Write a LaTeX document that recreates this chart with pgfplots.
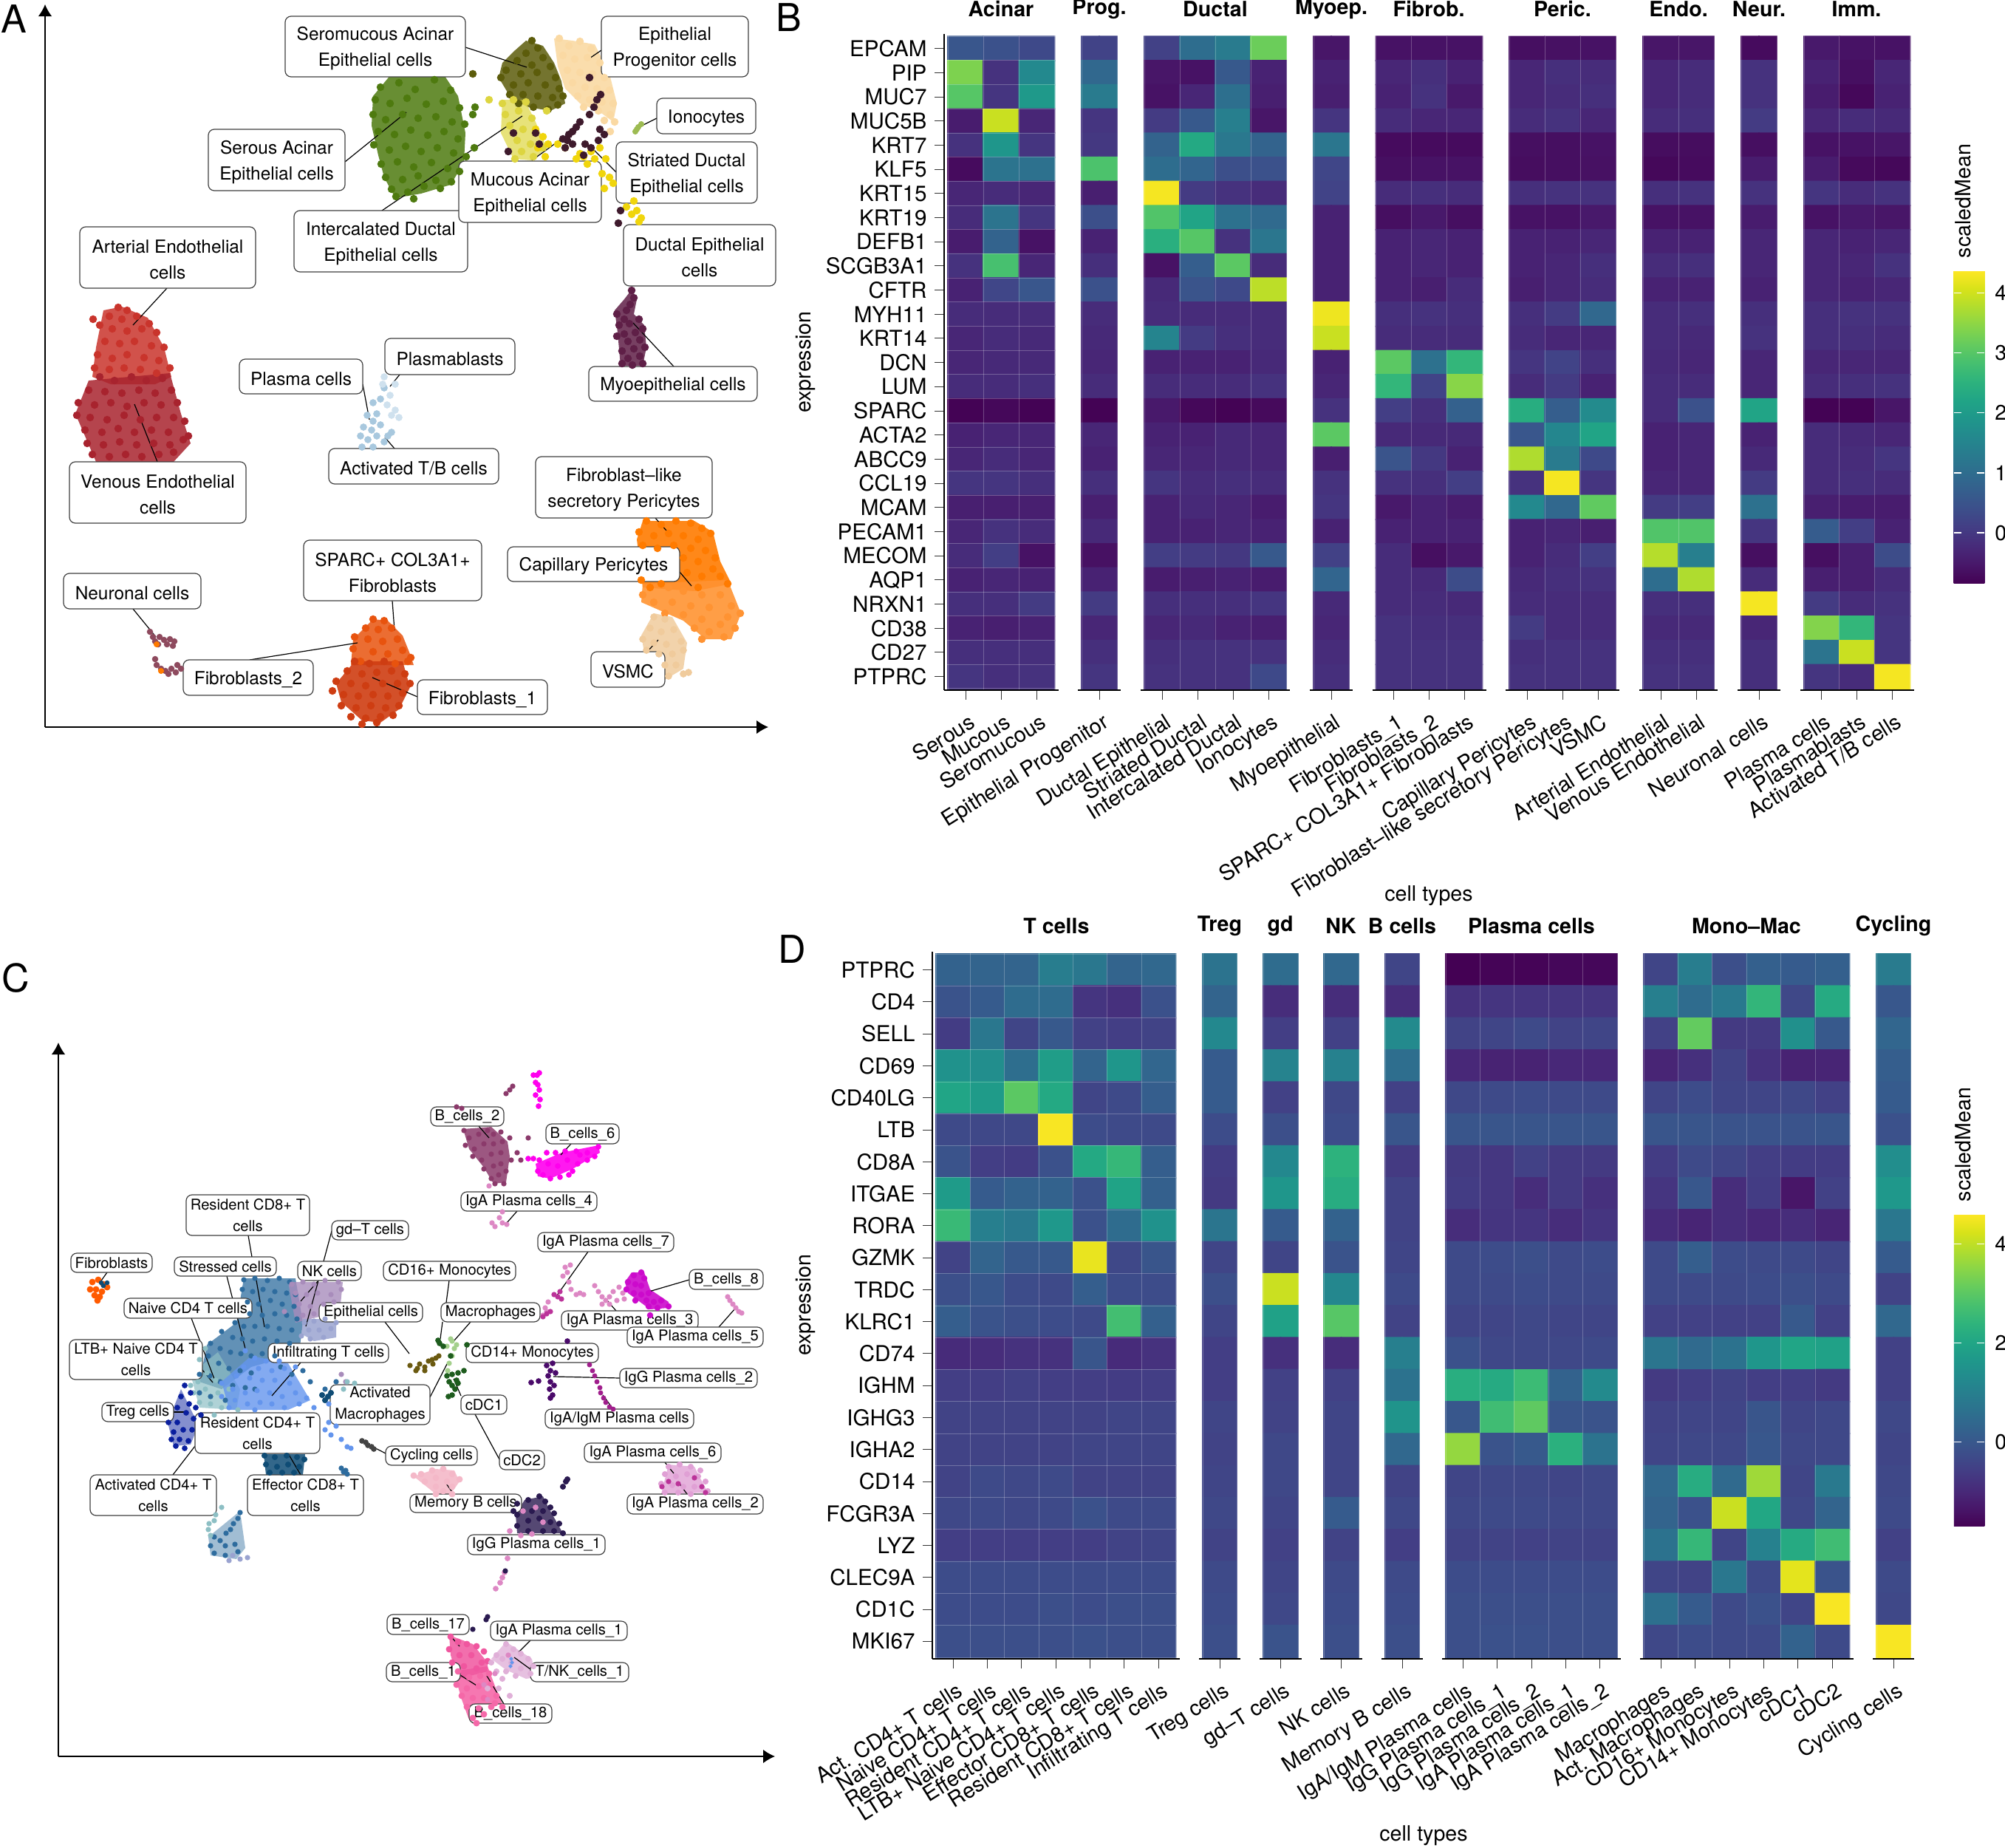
\documentclass[border=0pt]{standalone}
\usepackage{fontspec}
\setmainfont{TeX Gyre Heros}
\usepackage{pgfplots}
\pgfplotsset{compat=1.18,/pgf/number format/assume math mode=true}
\usetikzlibrary{arrows.meta}
\def\P(#1,#2){({(#1)*0.25pt},{(2500-(#2))*0.25pt})}
\newcommand\tf{\fontsize{7.15}{8}\selectfont}
\newcommand\ty{\fontsize{7.4}{8}\selectfont}
\newcommand\tx{\fontsize{7.25}{8}\selectfont}
\newcommand\ttl{\fontsize{7.15}{8}\selectfont\bfseries}
\newcommand\la{\fontsize{6.1}{8.75}\selectfont}
\newcommand\lc{\fontsize{5.05}{7.25}\selectfont}
\newcommand\pts[3]{\addplot[only marks,mark=*,mark size=#2pt,color=#1,mark options={draw=none,fill=#1}] coordinates {#3};}
\newcommand\blob[3]{\addplot[fill=#1,draw=none,fill opacity=#2] coordinates {#3} --cycle;}
\newcommand\seg[4]{\draw[black,line width=.3pt] (axis cs:#1,#2)--(axis cs:#3,#4);}
\newcommand\lab[6]{\draw[rounded corners=2pt,fill=white,draw=black!75,line width=.3pt] (axis cs:#2,#3) rectangle (axis cs:#4,#5);
 \node[align=center,inner sep=0pt,font=#1,yshift=\labshift] at (axis cs:{(#2+#4)/2},{(#3+#5)/2}) {#6};}
\tikzset{arr/.style={-{Latex[length=4pt,width=4.6pt]},line width=.3pt,black}}
\definecolor{ser}{HTML}{4E7A0F}\definecolor{smu}{HTML}{5C5C0B}\definecolor{epi}{HTML}{FAD9A3}
\definecolor{int}{HTML}{DDD540}\definecolor{str}{HTML}{F0D50C}\definecolor{muc}{HTML}{3E1A2C}
\definecolor{ion}{HTML}{9DBB52}\definecolor{myo}{HTML}{5F1F47}\definecolor{art}{HTML}{C9342C}
\definecolor{ven}{HTML}{A8232E}\definecolor{pla}{HTML}{A8C8DE}\definecolor{pbl}{HTML}{CFE1EE}
\definecolor{spa}{HTML}{E8530E}\definecolor{fia}{HTML}{CE3D12}\definecolor{neu}{HTML}{8E4A5E}
\definecolor{fle}{HTML}{FF7B00}\definecolor{cap}{HTML}{FF9332}\definecolor{vsm}{HTML}{F0CB9C}
\definecolor{rc8}{HTML}{2E6C9E}\definecolor{nkc}{HTML}{A88CBB}\definecolor{inf}{HTML}{9AA3D0}
\definecolor{blu}{HTML}{6495ED}\definecolor{ltb}{HTML}{8DBFC4}\definecolor{trg}{HTML}{0A1F9E}
\definecolor{eff}{HTML}{0F4C75}\definecolor{fib}{HTML}{FF5A00}\definecolor{mdg}{HTML}{1E5C1E}
\definecolor{mlg}{HTML}{A4D08C}\definecolor{eol}{HTML}{6B5A10}\definecolor{cyc}{HTML}{444444}
\definecolor{mem}{HTML}{F4B8C8}\definecolor{btw}{HTML}{8B3A6B}\definecolor{bsi}{HTML}{FF00EE}
\definecolor{ipk}{HTML}{DD88C4}\definecolor{ima}{HTML}{BB3399}\definecolor{bei}{HTML}{CC0ACC}
\definecolor{ig2}{HTML}{4A0A6A}\definecolor{iam}{HTML}{A01E8C}\definecolor{isx}{HTML}{E0A0D5}
\definecolor{ig1}{HTML}{2A1A50}\definecolor{b17}{HTML}{F0569F}\definecolor{bon}{HTML}{F568A8}
\definecolor{ial}{HTML}{E0B0D8}
% heat-map facet: xl, xr, ncols, tick labels, extra options, data (a one-column facet lists each value twice)
\newcommand\facet[6]{%
 \pgfmathsetmacro\FX{(#1-5)*0.25}\pgfmathsetmacro\FY{(2500-\Yb-2)*0.25}%
 \pgfmathsetmacro\FW{(#2-#1+10)*0.25}\pgfmathsetmacro\FH{(\Yb-\Yt+5)*0.25}%
 \pgfmathsetmacro\CW{(#2-#1)/#3}\pgfmathsetmacro\RP{(\Yb-\Yt)/\Nr}%
 \pgfmathsetmacro\XA{-0.5-5/\CW}\pgfmathsetmacro\XB{#3-0.5+5/\CW}%
 \pgfmathsetmacro\YA{-(\Nr-1)-0.5-2/\RP}\pgfmathsetmacro\YB{0.5+3/\RP}%
 \pgfmathtruncatemacro\MC{max(#3,2)}%
 \begin{axis}[at={(\FX pt,\FY pt)},anchor=south west,scale only axis,width=\FW pt,height=\FH pt,
  xmin=\XA,xmax=\XB,ymin=\YA,ymax=\YB,enlargelimits=false,colormap/viridis,axis on top,
  point meta min=\Mmin,point meta max=\Mmax,
  axis x line=bottom,axis y line=left,x axis line style={-,line width=.5pt},y axis line style={-,draw=none},
  xtick={0,1,2,3,4,5,6},xticklabels={#4},ytick=\empty,tick align=outside,major tick length=3.25pt,
  major tick style={black!80,line width=.25pt},
  minor xtick={-.5,.5,1.5,2.5,3.5,4.5,5.5,6.5},minor ytick={0.5,-0.5,...,-26.5},
  xminorgrids,yminorgrids,minor tick length=0pt,minor grid style={white,opacity=.25,line width=.25pt},
  xticklabel style={font=\tx,rotate=32,anchor=north east,inner sep=1pt,xshift=-.5pt,yshift=-3pt},
  yticklabel style={font=\ty,xshift=.9pt},#5]
 \addplot[matrix plot*,mesh/cols=\MC,point meta=\thisrow{z}] table[row sep=\\,x expr={ifthenelse(#3==1,mod(\coordindex,2)*0.5-0.25,mod(\coordindex,#3))},y expr={round((mod(\coordindex,\MC)-\coordindex)/\MC)}]{z\\ #6};
 \end{axis}}
\begin{document}
\begin{tikzpicture}
\path[use as bounding box] (0,0) rectangle (678.5pt,625pt);
% ---------- panel A
\def\labshift{-.7pt}
\begin{axis}[at={(15.25pt,379pt)},anchor=south west,scale only axis,width=244.75pt,height=244.5pt,xmin=61,xmax=1040,ymin=6,ymax=984,y dir=reverse,clip=false,hide axis]
\draw[arr] (axis cs:61,984)--(axis cs:61,6);\draw[arr] (axis cs:61,984)--(axis cs:1040,984);
\blob{ser}{.85}{(530,100)(600,100)(620,130)(630,180)(628,220)(610,250)(570,262)(535,268)(520,240)(512,210)(503,170)(505,130)}
\pts{ser}{1.1}{(515,118)(540,112)(562,121)(588,108)(610,122)(508,135)(528,140)(551,133)(577,141)(600,137)(622,146)(505,155)(522,162)(545,155)(566,160)(590,158)(612,165)(629,168)(512,178)(534,182)(556,176)(579,183)(601,178)(620,188)(506,196)(527,203)(549,198)(570,205)(592,200)(614,207)(631,212)(516,222)(538,219)(560,226)(584,220)(606,228)(622,232)(522,240)(545,243)(566,238)(590,244)(611,246)(530,256)(552,260)(574,252)(596,255)(536,266)(560,269)(640,155)(643,145)(642,200)}
\blob{epi}{.9}{(750,52)(775,55)(805,60)(825,100)(835,140)(830,165)(810,150)(785,140)(765,120)(755,90)}
\pts{epi}{1.1}{(757,52)(770,62)(785,56)(800,66)(762,75)(778,80)(795,78)(812,85)(768,95)(785,98)(802,100)(818,105)(775,112)(792,118)(808,120)(825,122)(782,130)(798,135)(815,138)(830,140)(790,145)(810,150)(826,155)(832,165)(818,163)(826,178)}
\blob{smu}{.85}{(712,55)(735,62)(750,85)(760,110)(765,140)(745,150)(715,145)(690,130)(675,105)(680,85)(695,70)}
\pts{smu}{1.1}{(720,55)(728,65)(712,72)(735,78)(700,82)(720,88)(745,90)(685,95)(705,100)(727,98)(752,105)(678,105)(695,115)(715,112)(738,115)(757,120)(690,128)(708,128)(728,130)(748,132)(762,130)(702,140)(722,145)(742,148)(755,142)(640,100)}
\blob{int}{.7}{(680,135)(710,135)(725,165)(740,200)(720,217)(695,215)(678,180)}
\pts{int}{1.1}{(680,140)(695,135)(712,138)(684,155)(702,150)(720,160)(690,170)(708,175)(725,180)(700,190)(718,195)(735,200)(706,205)(722,212)(697,215)(740,150)(662,135)}
\pts{str}{1.1}{(725,175)(735,185)(728,200)(742,195)(738,212)(755,195)(765,200)(780,215)(790,212)(800,205)(805,215)(795,222)(812,200)(820,215)(815,235)(825,240)(818,255)(830,248)(848,280)(855,290)(862,285)(868,295)(858,272)(865,300)(785,208)}
\pts{muc}{1.1}{(798,105)(813,128)(808,135)(804,145)(798,155)(785,165)(780,172)(775,178)(770,182)(762,188)(768,190)(775,195)(765,200)(730,195)(725,180)(695,180)(688,205)(792,195)(800,200)(810,190)(790,210)(812,175)(818,182)(840,285)(837,302)}
\pts{ion}{.8}{(860,178)(864,172)(868,168)(862,175)}
\blob{myo}{.85}{(855,392)(862,405)(858,425)(872,440)(875,470)(870,495)(840,495)(836,450)(832,420)(845,405)}
\pts{myo}{1.1}{(855,393)(858,403)(853,412)(848,420)(845,432)(835,425)(838,440)(852,438)(865,432)(870,445)(860,450)(845,452)(835,455)(850,462)(866,460)(873,470)(858,472)(842,475)(850,485)(866,482)(856,494)(842,492)(870,492)}
\blob{art}{.85}{(140,420)(165,415)(200,430)(222,470)(232,510)(210,520)(150,520)(125,510)(130,470)}
\pts{art}{1.1}{(160,416)(172,420)(148,428)(165,432)(185,428)(202,438)(135,440)(152,445)(172,448)(192,445)(212,450)(126,432)(142,462)(162,465)(182,462)(205,468)(222,470)(132,480)(152,485)(172,480)(195,484)(215,488)(128,498)(148,500)(168,498)(190,500)(212,505)(230,498)}
\blob{ven}{.85}{(120,515)(230,505)(245,560)(258,600)(235,625)(130,625)(115,590)(102,560)}
\pts{ven}{1.1}{(135,510)(155,515)(178,510)(198,515)(220,512)(120,528)(142,530)(165,532)(188,528)(210,532)(232,528)(106,545)(128,548)(150,545)(172,550)(195,545)(218,548)(240,545)(104,562)(122,565)(145,568)(168,562)(190,568)(212,565)(235,565)(250,570)(115,582)(138,585)(160,580)(182,585)(205,582)(228,585)(255,590)(118,600)(140,602)(162,598)(185,602)(208,600)(230,602)(248,595)(125,615)(148,618)(170,615)(192,618)(215,615)(235,612)}
\pts{pla}{1}{(520,525)(515,540)(505,545)(510,560)(497,562)(505,570)(492,578)(503,582)(515,575)(488,590)(498,595)(510,590)(520,598)(490,605)(505,605)(525,590)(530,585)}
\pts{pbl}{1}{(528,535)(535,520)(530,562)(535,555)(540,565)(520,510)(524,548)(518,520)}
\blob{spa}{.85}{(505,838)(525,840)(545,860)(555,885)(560,900)(475,900)(478,865)}
\pts{spa}{1.1}{(505,838)(520,840)(495,850)(512,852)(530,850)(480,862)(498,865)(518,868)(538,865)(478,878)(505,882)(525,885)(545,880)(552,895)(488,895)(535,898)(556,890)}
\blob{fia}{.9}{(480,895)(545,895)(555,930)(540,960)(515,978)(490,975)(462,950)(455,925)}
\pts{fia}{1.1}{(480,895)(500,898)(520,895)(470,908)(490,912)(510,910)(530,908)(548,912)(455,922)(475,925)(495,928)(518,925)(538,925)(555,925)(450,935)(465,940)(485,942)(505,940)(525,942)(545,938)(462,955)(482,958)(502,955)(522,958)(540,955)(475,970)(495,972)(515,970)(532,968)(490,980)(510,978)}
\pts{neu}{.85}{(203,855)(207,862)(210,868)(216,862)(222,866)(230,865)(236,868)(234,874)(226,872)(214,872)(210,892)(212,900)(218,905)(224,908)(232,905)(238,910)(245,905)(228,912)(240,900)}
\pts{fle}{.8}{(212,872)(218,908)}
\blob{fle}{.9}{(870,705)(940,705)(965,720)(975,760)(990,790)(940,800)(870,795)(862,730)}
\pts{fle}{1.1}{(875,705)(895,710)(915,705)(935,708)(950,715)(865,720)(885,725)(905,722)(925,725)(945,730)(962,722)(870,738)(890,742)(912,738)(935,742)(955,745)(968,755)(925,755)(945,760)(965,770)(975,780)(930,775)(950,780)(985,790)(868,785)(880,795)(895,790)(945,795)}
\blob{cap}{.9}{(870,790)(985,785)(1003,830)(990,865)(955,865)(925,840)(868,815)}
\pts{cap}{1.1}{(905,795)(925,800)(950,805)(975,805)(990,820)(870,805)(885,815)(910,815)(935,820)(960,822)(985,835)(1002,830)(900,830)(925,832)(950,838)(975,845)(995,850)(940,850)(960,855)(980,862)(950,865)}
\blob{vsm}{.85}{(885,830)(910,835)(930,870)(925,905)(900,920)(875,900)(868,860)}
\pts{vsm}{1}{(885,835)(900,838)(880,850)(895,855)(912,852)(870,865)(885,870)(902,872)(922,868)(875,880)(892,885)(910,885)(925,880)(900,900)(915,900)(905,915)(925,912)(932,910)}
\seg{630}{64}{713}{91}\seg{814}{68}{798}{79}\seg{889}{160}{867}{171}\seg{467}{219}{550}{152}\seg{834}{233}{804}{203}\seg{720}{217}{767}{183}\seg{517}{285}{707}{157}\seg{226}{390}{180}{440}\seg{912}{496}{857}{437}\seg{541}{507}{528}{523}\seg{491}{520}{500}{568}\seg{534}{607}{521}{592}\seg{213}{625}{182}{547}\seg{887}{701}{902}{718}\seg{920}{774}{936}{793}\seg{531}{813}{534}{853}\seg{180}{824}{211}{862}\seg{338}{893}{484}{870}\seg{565}{943}{504}{917}\seg{876}{882}{891}{866}
\lab{\la}{386}{22}{630}{104}{Seromucous Acinar\\Epithelial cells}
\lab{\la}{814}{22}{1013}{104}{Epithelial\\Progenitor cells}
\lab{\la}{889}{133}{1023}{181}{Ionocytes}
\lab{\la}{282}{175}{467}{258}{Serous Acinar\\Epithelial cells}
\lab{\la}{398}{285}{633}{368}{Intercalated Ductal\\Epithelial cells}
\lab{\la}{621}{218}{814}{301}{Mucous Acinar\\Epithelial cells}
\lab{\la}{834}{192}{1025}{275}{Striated Ductal\\Epithelial cells}
\lab{\la}{108}{307}{346}{390}{Arterial Endothelial\\cells}
\lab{\la}{844}{304}{1050}{387}{Ductal Epithelial\\cells}
\lab{\la}{521}{458}{697}{507}{Plasmablasts}
\lab{\la}{324}{486}{491}{533}{Plasma cells}
\lab{\la}{797}{496}{1025}{543}{Myoepithelial cells}
\lab{\la}{445}{607}{675}{655}{Activated T/B cells}
\lab{\la}{94}{625}{333}{708}{Venous Endothelial\\cells}
\lab{\la}{725}{618}{964}{701}{Fibroblast–like\\secretory Pericytes}
\lab{\la}{687}{740}{920}{787}{Capillary Pericytes}
\lab{\la}{411}{731}{652}{813}{SPARC+ COL3A1+\\Fibroblasts}
\lab{\la}{86}{776}{272}{824}{Neuronal cells}
\lab{\la}{248}{893}{424}{941}{Fibroblasts\_2}
\lab{\la}{565}{920}{741}{967}{Fibroblasts\_1}
\lab{\la}{800}{882}{900}{930}{VSMC}
\end{axis}
% ---------- panel C
\def\labshift{0pt}
\begin{axis}[at={(19.75pt,30.75pt)},anchor=south west,scale only axis,width=242.5pt,height=241.5pt,xmin=79,xmax=1049,ymin=1411,ymax=2377,y dir=reverse,clip=false,hide axis]
\draw[arr] (axis cs:79,2377)--(axis cs:79,1411);\draw[arr] (axis cs:79,2377)--(axis cs:1049,2377);
\blob{rc8}{.75}{(330,1730)(400,1730)(410,1790)(405,1830)(375,1840)(340,1850)(300,1880)(270,1870)(280,1820)(320,1790)}
\blob{nkc}{.8}{(390,1735)(464,1735)(460,1775)(420,1785)(400,1790)}
\blob{inf}{.85}{(410,1785)(455,1785)(455,1810)(425,1815)(408,1805)}
\blob{ltb}{.7}{(258,1860)(295,1830)(325,1880)(320,1908)(270,1905)}
\blob{blu}{.8}{(300,1870)(340,1835)(390,1845)(420,1895)(390,1908)(310,1908)}
\blob{trg}{.5}{(245,1880)(262,1915)(272,1920)(258,1955)(235,1957)(227,1925)}
\blob{eff}{.85}{(357,1968)(413,1968)(410,1996)(360,1996)}
\blob{rc8}{.45}{(325,2045)(332,2095)(320,2110)(285,2105)(282,2080)}
\pts{rc8}{.7}{(330,1732)(345,1730)(362,1733)(378,1730)(392,1735)(328,1745)(342,1748)(356,1745)(372,1748)(388,1750)(400,1752)(335,1762)(350,1765)(366,1760)(382,1765)(398,1768)(338,1778)(355,1780)(372,1778)(388,1780)(402,1785)(318,1790)(330,1795)(345,1795)(362,1795)(378,1798)(395,1800)(300,1802)(315,1810)(328,1812)(342,1815)(358,1812)(375,1815)(392,1818)(285,1818)(298,1825)(312,1830)(326,1832)(340,1835)(355,1832)(372,1835)(282,1835)(296,1845)(310,1852)(325,1855)(340,1858)(270,1860)(284,1862)(298,1870)(315,1875)(332,1878)(270,1885)(285,1890)(305,1895)(345,1880)(380,1850)(395,1860)(410,1855)(420,1870)(440,1880)(455,1870)}
\pts{nkc}{.7}{(395,1738)(410,1735)(425,1738)(440,1733)(458,1735)(462,1745)(400,1750)(415,1752)(430,1750)(448,1752)(405,1765)(420,1768)(438,1765)(452,1762)(410,1780)(425,1778)(385,1775)(462,1860)(468,1870)}
\pts{inf}{.7}{(412,1790)(425,1788)(440,1785)(455,1790)(418,1800)(432,1800)(448,1798)(420,1812)(438,1810)(408,1808)}
\pts{ltb}{.7}{(278,1825)(270,1840)(258,1875)(268,1870)(280,1858)(292,1868)(262,1885)(278,1880)(295,1885)(310,1880)(270,1898)(285,1900)(300,1905)(318,1895)(322,1908)(290,1915)(470,1870)(480,1872)(465,1880)}
\pts{trg}{.75}{(250,1875)(258,1885)(245,1890)(256,1900)(240,1905)(252,1912)(262,1920)(272,1915)(228,1925)(240,1925)(235,1938)(248,1935)(260,1935)(232,1948)(243,1948)(255,1950)(238,1957)(250,1960)(265,1905)}
\pts{blu}{.7}{(332,1828)(345,1838)(360,1842)(378,1842)(330,1850)(350,1852)(368,1855)(385,1852)(400,1850)(320,1862)(338,1865)(355,1868)(372,1868)(392,1872)(300,1872)(315,1880)(332,1885)(348,1882)(365,1885)(382,1890)(400,1885)(415,1892)(300,1890)(318,1895)(335,1900)(352,1898)(368,1900)(385,1905)(405,1900)(425,1905)(445,1900)(310,1905)(345,1908)(440,1935)(448,1942)(455,1930)(462,1948)(470,1958)(445,1925)(475,1960)}
\pts{eff}{.8}{(358,1970)(372,1972)(388,1970)(402,1972)(412,1975)(360,1982)(375,1985)(390,1982)(405,1985)(365,1993)(382,1993)(398,1993)(436,1888)(444,1890)(448,1885)(440,1895)}
\pts{rc8}{.7}{(462,1987)(465,1992)(470,1995)(468,1990)(325,2047)(322,2055)(316,2062)(312,2070)(306,2075)(290,2080)(298,2085)(285,2092)(305,2092)(318,2090)(290,2102)(305,2105)(322,2100)}
\pts{ltb}{.7}{(292,2050)(290,2058)(283,2062)(282,2070)(285,2078)(300,2040)}
\pts{inf}{.7}{(315,2105)(325,2110)(335,2108)(310,2112)}
\pts{fib}{.9}{(125,1735)(133,1732)(140,1738)(122,1745)(130,1745)(138,1748)(145,1742)(128,1753)(135,1755)(132,1760)}
\pts{eff}{.6}{(140,1740)(137,1736)(145,1736)}
\pts{eol}{.7}{(555,1848)(565,1852)(568,1846)(575,1850)(580,1842)(585,1840)(590,1838)(586,1846)(594,1835)(563,1855)(575,1855)}
\pts{mlg}{.7}{(612,1815)(618,1820)(615,1825)(610,1812)(605,1822)(612,1835)(608,1845)(606,1855)}
\pts{mdg}{.75}{(595,1818)(593,1814)(600,1822)(610,1835)(605,1862)(612,1860)(620,1858)(628,1855)(632,1820)(608,1870)(612,1875)(616,1880)(612,1888)(607,1890)(620,1872)(618,1868)}
\pts{cyc}{.75}{(490,1950)(495,1952)(498,1956)(503,1958)(506,1961)}
\blob{mem}{.9}{(560,1998)(590,1988)(615,1990)(622,2005)(610,2022)(590,2022)}
\pts{mem}{.9}{(560,1997)(570,1995)(585,1990)(600,1988)(612,1995)(622,2002)(575,2005)(590,2000)(605,2005)(612,2012)(590,2012)(600,2018)(612,2022)(590,2022)}
\blob{btw}{.85}{(627,1528)(665,1525)(687,1545)(690,1565)(685,1600)(668,1602)(655,1580)(635,1555)}
\pts{btw}{.7}{(628,1530)(635,1540)(648,1535)(660,1530)(668,1535)(678,1532)(630,1550)(642,1555)(655,1548)(668,1548)(680,1545)(690,1540)(640,1565)(652,1570)(665,1562)(678,1560)(655,1582)(668,1578)(678,1575)(665,1595)(675,1590)(685,1585)(670,1602)(682,1602)(692,1570)(700,1560)(705,1570)(715,1540)(690,1475)(694,1470)(685,1480)(618,1498)(625,1500)}
\blob{bsi}{.9}{(725,1575)(760,1560)(810,1550)(812,1560)(775,1582)(745,1595)(728,1592)}
\pts{bsi}{.75}{(722,1455)(730,1452)(725,1465)(730,1475)(725,1482)(731,1488)(729,1497)(727,1455)(728,1468)(728,1585)(735,1590)(745,1595)(758,1593)(770,1590)(730,1570)(742,1575)(755,1578)(768,1570)(782,1575)(740,1560)(752,1560)(765,1558)(780,1558)(795,1560)(810,1552)(805,1565)(795,1570)(785,1563)(775,1585)(715,1568)(722,1568)}
\pts{ipk}{.7}{(680,1640)(676,1648)(680,1655)(666,1655)(670,1660)(686,1657)(662,1605)}
\pts{ipk}{.7}{(765,1715)(768,1722)(762,1727)(772,1712)(770,1735)(773,1745)(780,1752)(785,1750)(790,1752)(742,1762)(738,1770)(735,1780)(740,1775)}
\pts{ima}{.7}{(750,1752)(755,1755)(758,1748)(760,1758)(735,1782)(740,1778)(745,1775)}
\pts{ipk}{.7}{(805,1740)(810,1748)(815,1755)(820,1760)(825,1755)(830,1748)(838,1742)(843,1750)(835,1760)(845,1758)(825,1765)(815,1765)}
\blob{bei}{.9}{(855,1722)(872,1722)(880,1745)(905,1762)(905,1770)(880,1772)(850,1750)(846,1735)}
\pts{bei}{.85}{(858,1726)(868,1722)(872,1730)(850,1735)(860,1738)(868,1740)(848,1745)(858,1750)(868,1752)(878,1750)(860,1760)(875,1760)(885,1762)(895,1760)(905,1768)(890,1770)(878,1768)(880,1780)}
\pts{ipk}{.7}{(985,1755)(988,1760)(992,1765)(996,1770)(1000,1775)(1004,1777)}
\pts{ig2}{.75}{(740,1848)(748,1845)(745,1855)(752,1858)(742,1862)(745,1870)(750,1875)(744,1880)(748,1888)(745,1892)(719,1871)(729,1869)(768,1815)}
\pts{iam}{.65}{(798,1847)(802,1855)(805,1862)(808,1870)(812,1878)(813,1885)(817,1892)(820,1898)(825,1904)(830,1907)}
\blob{isx}{.8}{(905,1982)(940,1985)(958,2020)(895,2022)}
\pts{isx}{.8}{(905,1985)(920,1982)(935,1985)(948,1990)(900,1995)(915,1998)(930,1995)(945,1998)(955,2005)(895,2008)(910,2010)(925,2012)(940,2012)(958,2018)(900,2020)(918,2020)(935,2022)}
\pts{ima}{.7}{(896,2012)(905,2005)(940,2000)(950,2012)(955,2020)(918,2008)}
\blob{ig1}{.8}{(710,2030)(735,2025)(745,2045)(762,2075)(700,2075)(698,2050)}
\pts{ig1}{.8}{(700,2035)(715,2030)(730,2025)(738,2032)(745,2040)(720,2045)(735,2045)(750,2048)(700,2050)(715,2058)(730,2055)(745,2060)(757,2062)(700,2065)(715,2072)(735,2072)(750,2072)(762,2075)(762,2012)(766,2005)(768,2002)(695,2045)}
\pts{ipk}{.75}{(725,2040)(708,2045)(735,2060)(705,2078)(720,2076)(690,2072)(687,2109)(683,2128)(680,2135)(677,2142)(671,2150)}
\pts{ig1}{.7}{(660,2188)(658,2192)(684,2126)(640,2205)}
\blob{bon}{.9}{(614,2262)(660,2255)(675,2295)(683,2312)(640,2333)(634,2325)(625,2300)}
\blob{b17}{.85}{(608,2213)(640,2225)(660,2250)(660,2262)(620,2272)(610,2240)}
\pts{b17}{.9}{(610,2215)(620,2222)(632,2225)(645,2228)(655,2235)(608,2232)(622,2240)(638,2240)(652,2250)(612,2250)(628,2255)(645,2258)(660,2248)}
\pts{bon}{.9}{(620,2262)(635,2270)(650,2268)(662,2265)(618,2280)(632,2285)(648,2282)(664,2280)(625,2295)(640,2298)(655,2298)(672,2295)(632,2310)(648,2312)(665,2310)(680,2310)(640,2325)(645,2332)(655,2320)(670,2305)}
\blob{ial}{.8}{(685,2222)(720,2245)(725,2270)(712,2272)(685,2260)(665,2245)}
\pts{ial}{.8}{(672,2240)(665,2250)(685,2225)(695,2232)(705,2238)(715,2245)(722,2255)(680,2245)(692,2250)(705,2258)(718,2265)(685,2262)(698,2268)(680,2272)(672,2262)(690,2295)(675,2285)(660,2285)}
\pts{ipk}{.7}{(655,2280)(660,2300)(670,2265)(688,2240)}
\pts{blu}{.45}{(692,2245)(693,2250)(691,2255)}
\seg{336}{1672}{341}{1701}\seg{346}{1727}{358}{1796}\seg{449}{1666}{438}{1707}\seg{431}{1733}{414}{1795}\seg{145}{1722}{135}{1736}\seg{307}{1727}{333}{1829}\seg{431}{1733}{407}{1761}\seg{608}{1733}{604}{1763}\seg{599}{1789}{596}{1812}\seg{521}{1789}{554}{1832}\seg{637}{1789}{615}{1814}\seg{259}{1784}{290}{1866}\seg{274}{1854}{288}{1871}\seg{407}{1844}{368}{1889}\seg{582}{1891}{605}{1846}\seg{624}{1889}{614}{1866}\seg{235}{1911}{253}{1911}\seg{522}{1967}{493}{1952}\seg{676}{1975}{643}{1914}\seg{264}{1957}{234}{1996}\seg{407}{1996}{390}{1967}\seg{614}{2022}{602}{2005}\seg{648}{1524}{662}{1540}\seg{773}{1548}{759}{1563}\seg{700}{1639}{686}{1655}\seg{796}{1694}{754}{1753}\seg{933}{1732}{875}{1749}\seg{834}{1774}{819}{1757}\seg{973}{1796}{995}{1771}\seg{839}{1865}{749}{1863}\seg{830}{1907}{816}{1888}\seg{900}{1979}{912}{1994}\seg{930}{2022}{919}{2007}\seg{608}{2212}{622}{2228}\seg{718}{2220}{702}{2236}\seg{623}{2267}{645}{2281}\seg{718}{2259}{696}{2243}\seg{682}{2306}{659}{2268}
\lab{\lc}{252}{1617}{419}{1672}{Resident CD8+ T\\cells}
\lab{\lc}{449}{1652}{553}{1678}{gd–T cells}
\lab{\lc}{96}{1696}{206}{1722}{Fibroblasts}
\lab{\lc}{236}{1701}{374}{1727}{Stressed cells}
\lab{\lc}{403}{1707}{489}{1733}{NK cells}
\lab{\lc}{519}{1707}{698}{1733}{CD16+ Monocytes}
\lab{\lc}{168}{1757}{341}{1784}{Naive CD4 T cells}
\lab{\lc}{432}{1763}{572}{1789}{Epithelial cells}
\lab{\lc}{597}{1763}{731}{1789}{Macrophages}
\lab{\lc}{94}{1813}{274}{1867}{LTB+ Naive CD4 T\\cells}
\lab{\lc}{363}{1818}{526}{1844}{Infiltrating T cells}
\lab{\lc}{631}{1818}{810}{1844}{CD14+ Monocytes}
\lab{\lc}{447}{1874}{582}{1928}{Activated\\Macrophages}
\lab{\lc}{624}{1888}{686}{1914}{cDC1}
\lab{\lc}{138}{1898}{235}{1924}{Treg cells}
\lab{\lc}{264}{1912}{433}{1967}{Resident CD4+ T\\cells}
\lab{\lc}{522}{1957}{646}{1983}{Cycling cells}
\lab{\lc}{676}{1963}{737}{1989}{cDC2}
\lab{\lc}{122}{1996}{293}{2051}{Activated CD4+ T\\cells}
\lab{\lc}{335}{1996}{492}{2051}{Effector CD8+ T\\cells}
\lab{\lc}{555}{2022}{706}{2047}{Memory B cells}
\lab{\lc}{583}{1498}{682}{1524}{B\_cells\_2}
\lab{\lc}{739}{1521}{838}{1548}{B\_cells\_6}
\lab{\lc}{624}{1613}{808}{1639}{IgA Plasma cells\_4}
\lab{\lc}{728}{1668}{912}{1694}{IgA Plasma cells\_7}
\lab{\lc}{933}{1718}{1033}{1745}{B\_cells\_8}
\lab{\lc}{760}{1774}{945}{1800}{IgA Plasma cells\_3}
\lab{\lc}{849}{1796}{1033}{1823}{IgA Plasma cells\_5}
\lab{\lc}{839}{1852}{1025}{1878}{IgG Plasma cells\_2}
\lab{\lc}{738}{1907}{939}{1933}{IgA/IgM Plasma cells}
\lab{\lc}{791}{1953}{976}{1979}{IgA Plasma cells\_6}
\lab{\lc}{849}{2022}{1033}{2049}{IgA Plasma cells\_2}
\lab{\lc}{633}{2077}{819}{2104}{IgG Plasma cells\_1}
\lab{\lc}{524}{2185}{635}{2212}{B\_cells\_17}
\lab{\lc}{664}{2194}{849}{2220}{IgA Plasma cells\_1}
\lab{\lc}{523}{2250}{623}{2276}{B\_cells\_1}
\lab{\lc}{718}{2250}{851}{2276}{T/NK\_cells\_1}
\lab{\lc}{635}{2306}{747}{2332}{B\_cells\_18}
\end{axis}
% ---------- panel B
\def\Yt{49.3}\def\Yb{932}\def\Nr{27}\def\Mmin{-0.84}\def\Mmax{4.37}
\facet{1283}{1427.5}{3}{Serous,Mucous,Seromucous}{y axis line style={-,draw=black,line width=.3pt},ytick={0,-1,-2,-3,-4,-5,-6,-7,-8,-9,-10,-11,-12,-13,-14,-15,-16,-17,-18,-19,-20,-21,-22,-23,-24,-25,-26},yticklabels={EPCAM,PIP,MUC7,MUC5B,KRT7,KLF5,KRT15,KRT19,DEFB1,SCGB3A1,CFTR,MYH11,KRT14,DCN,LUM,SPARC,ACTA2,ABCC9,CCL19,MCAM,PECAM1,MECOM,AQP1,NRXN1,CD38,CD27,PTPRC}}{.55\\.45\\.3\\ 3.35\\-.1\\1.6\\ 3.0\\-.05\\1.95\\ -.45\\3.95\\-.3\\ -.1\\1.9\\-.05\\ -.7\\1.15\\1.1\\ -.3\\-.2\\-.3\\ -.2\\1.15\\-.05\\ -.45\\.8\\-.6\\ -.1\\2.85\\-.3\\ -.35\\.25\\.55\\ -.2\\-.2\\-.2\\ -.3\\-.2\\-.25\\ -.3\\-.25\\-.25\\ -.2\\-.2\\-.15\\ -.82\\-.75\\-.82\\ -.35\\-.3\\-.3\\ -.3\\-.2\\-.3\\ -.05\\-.05\\-.15\\ -.4\\-.4\\-.4\\ -.3\\-.1\\-.2\\ -.2\\.1\\-.6\\ -.35\\-.3\\-.35\\ -.15\\-.15\\.05\\ -.35\\-.4\\-.35\\ -.15\\-.15\\-.15\\ -.05\\-.15\\-.1\\}
\facet{1464}{1512}{1}{Epithelial Progenitor}{}{.2\\.2\\ .9\\.9\\ 1.3\\1.3\\ -.05\\-.05\\ 0\\0\\ 2.9\\2.9\\ -.4\\-.4\\ .4\\.4\\ -.35\\-.35\\ -.15\\-.15\\ .45\\.45\\ -.2\\-.2\\ -.25\\-.25\\ -.3\\-.3\\ -.2\\-.2\\ -.82\\-.82\\ -.3\\-.3\\ -.35\\-.35\\ -.15\\-.15\\ -.4\\-.4\\ -.25\\-.25\\ -.62\\-.62\\ -.35\\-.35\\ .05\\.05\\ -.3\\-.3\\ -.15\\-.15\\ -.05\\-.05\\}
\facet{1549}{1741}{4}{Ductal Epithelial,Striated Ductal,Intercalated Ductal,Ionocytes}{}{.15\\1.0\\1.3\\3.2\\ -.55\\-.6\\.6\\-.35\\ -.6\\-.3\\1.05\\-.4\\ .05\\.6\\1.4\\-.55\\ .8\\2.3\\1.25\\.8\\ 1.0\\.85\\.4\\.45\\ 4.3\\.05\\-.1\\-.2\\ 2.95\\2.2\\1.1\\.95\\ 2.45\\3.0\\-.1\\1.2\\ -.6\\.7\\3.05\\-.2\\ -.25\\.5\\.3\\3.85\\ -.2\\-.2\\-.2\\-.2\\ 1.5\\.05\\-.15\\-.2\\ -.35\\-.35\\-.35\\-.25\\ -.2\\-.2\\-.2\\-.1\\ -.5\\-.75\\-.82\\-.72\\ -.35\\-.35\\-.25\\-.3\\ -.3\\-.3\\-.25\\-.3\\ -.05\\-.2\\-.15\\-.2\\ -.35\\-.25\\-.3\\-.45\\ -.35\\-.35\\-.3\\-.35\\ .1\\.05\\0\\.6\\ -.45\\-.4\\-.35\\-.45\\ -.15\\-.15\\-.15\\-.05\\ -.3\\-.25\\-.35\\-.4\\ -.15\\-.1\\-.1\\-.1\\ -.1\\-.1\\-.1\\.3\\}
\facet{1778}{1826}{1}{Myoepithelial}{}{-.55\\-.55\\ -.35\\-.35\\ -.4\\-.4\\ -.05\\-.05\\ 1.2\\1.2\\ .25\\.25\\ .2\\.2\\ -.35\\-.35\\ -.35\\-.35\\ -.35\\-.35\\ -.35\\-.35\\ 4.25\\4.25\\ 3.95\\3.95\\ -.35\\-.35\\ -.3\\-.3\\ -.1\\-.1\\ 3.05\\3.05\\ -.4\\-.4\\ -.1\\-.1\\ -.05\\-.05\\ -.35\\-.35\\ .15\\.15\\ .85\\.85\\ -.25\\-.25\\ -.3\\-.3\\ -.2\\-.2\\ -.15\\-.15\\}
\facet{1862.5}{2006.6}{3}{Fibroblasts\_1,Fibroblasts\_2,SPARC+ COL3A1+ Fibroblasts}{}{-.6\\-.6\\-.6\\ -.3\\-.15\\-.35\\ -.35\\-.1\\-.5\\ -.2\\-.3\\-.3\\ -.7\\-.7\\-.7\\ -.65\\-.6\\-.6\\ -.2\\-.15\\-.2\\ -.65\\-.5\\-.65\\ -.35\\-.3\\-.35\\ -.35\\-.3\\-.35\\ -.35\\-.4\\-.2\\ -.15\\-.1\\-.15\\ -.2\\-.2\\-.2\\ 3.05\\1.1\\2.6\\ 2.6\\.2\\3.45\\ .1\\-.15\\.75\\ -.25\\-.25\\-.25\\ .5\\0\\-.35\\ -.1\\-.15\\.1\\ -.5\\-.35\\-.45\\ -.35\\-.35\\-.35\\ -.2\\-.65\\-.5\\ -.2\\-.25\\.35\\ -.2\\-.2\\-.25\\ -.1\\-.15\\-.15\\ -.1\\-.1\\-.1\\ -.1\\-.1\\-.1\\}
\facet{2043}{2187}{3}{Capillary Pericytes,Fibroblast–like secretory Pericytes,VSMC}{}{-.65\\-.62\\-.6\\ -.3\\-.15\\-.2\\ -.3\\-.2\\-.15\\ -.2\\-.1\\-.3\\ -.65\\-.65\\-.6\\ -.68\\-.65\\-.62\\ -.15\\-.1\\-.1\\ -.6\\-.6\\-.5\\ -.35\\-.35\\-.3\\ -.35\\-.3\\-.15\\ -.4\\-.3\\-.2\\ -.15\\.05\\.9\\ -.2\\-.3\\-.3\\ -.05\\.2\\-.15\\ -.2\\.05\\-.35\\ 2.4\\.7\\1.65\\ .55\\1.55\\2.2\\ 3.75\\1.3\\.3\\ -.1\\4.3\\-.05\\ 1.6\\.9\\3.1\\ -.35\\-.3\\-.4\\ -.35\\-.2\\.1\\ -.25\\-.15\\-.1\\ -.2\\-.2\\-.2\\ .05\\-.2\\-.2\\ -.15\\-.1\\-.1\\ -.1\\-.1\\-.1\\}
\facet{2224}{2320}{2}{Arterial Endothelial,Venous Endothelial}{}{-.55\\-.55\\ -.3\\-.2\\ -.3\\-.2\\ -.2\\-.15\\ -.68\\-.68\\ -.75\\-.7\\ -.15\\-.1\\ -.6\\-.6\\ -.35\\-.35\\ -.2\\-.15\\ -.35\\-.35\\ -.2\\-.15\\ -.2\\-.25\\ -.25\\-.3\\ -.2\\-.2\\ -.2\\.45\\ -.35\\-.3\\ -.35\\-.3\\ -.3\\-.3\\ .05\\.1\\ 2.95\\2.95\\ 3.8\\1.4\\ 1.0\\3.75\\ -.15\\-.15\\ -.25\\-.25\\ -.15\\-.15\\ -.1\\-.1\\}
\facet{2357}{2405}{1}{Neuronal cells}{}{-.7\\-.7\\ -.1\\-.1\\ -.1\\-.1\\ .05\\.05\\ -.65\\-.65\\ -.45\\-.45\\ -.1\\-.1\\ -.45\\-.45\\ -.3\\-.3\\ -.3\\-.3\\ -.35\\-.35\\ -.15\\-.15\\ -.1\\-.1\\ -.3\\-.3\\ -.3\\-.3\\ 2.2\\2.2\\ -.35\\-.35\\ -.25\\-.25\\ .05\\.05\\ 1.1\\1.1\\ -.05\\-.05\\ -.65\\-.65\\ -.2\\-.2\\ 4.3\\4.3\\ -.3\\-.3\\ -.15\\-.15\\ -.15\\-.15\\}
\facet{2442}{2585.5}{3}{Plasma cells,Plasmablasts,Activated T/B cells}{colorbar,colorbar style={at={(parent axis.north east)},anchor=north west,xshift=5pt,yshift=-80pt,width=10.4pt,height=105.75pt,ytick={0,1,2,3,4},yticklabel style={font=\tf},major tick length=2.5pt,tick align=inside,ytick pos=both,major tick style={white,line width=.3pt},axis line style={draw=none}}}{-.5\\-.6\\-.6\\ -.35\\-.65\\-.3\\ -.45\\-.75\\-.35\\ -.3\\-.2\\-.25\\ -.6\\-.6\\-.55\\ -.45\\-.72\\-.75\\ -.05\\-.2\\-.1\\ -.6\\-.5\\-.55\\ -.3\\-.35\\-.3\\ -.3\\-.3\\-.1\\ -.3\\-.35\\-.3\\ -.15\\-.1\\-.1\\ -.15\\-.15\\-.2\\ -.3\\-.3\\-.3\\ -.2\\-.15\\-.1\\ -.82\\-.82\\-.55\\ -.2\\-.25\\-.3\\ -.2\\-.2\\-.05\\ -.2\\-.15\\-.2\\ -.4\\-.45\\-.45\\ .65\\.1\\-.35\\ -.65\\-.4\\.35\\ -.4\\-.4\\-.2\\ .05\\-.2\\-.1\\ 3.4\\2.6\\-.05\\ 1.15\\3.95\\-.05\\ -.05\\-.2\\4.3\\}
% ---------- panel D
\def\Yt{1291}\def\Yb{2243}\def\Nr{22}\def\Mmin{-1.7}\def\Mmax{4.6}
\facet{1267}{1591.5}{7}{Act. CD4+ T cells,Naive CD4+ T cells,Resident CD4+ T cells,LTB+ Naive CD4+ T cells,Effector CD8+ T cells,Resident CD8+ T cells,Infiltrating T cells}{y axis line style={-,draw=black,line width=.3pt},ytick={0,-1,-2,-3,-4,-5,-6,-7,-8,-9,-10,-11,-12,-13,-14,-15,-16,-17,-18,-19,-20,-21},yticklabels={PTPRC,CD4,SELL,CD69,CD40LG,LTB,CD8A,ITGAE,RORA,GZMK,TRDC,KLRC1,CD74,IGHM,IGHG3,IGHA2,CD14,FCGR3A,LYZ,CLEC9A,CD1C,MKI67}}{.25\\.3\\.3\\.95\\.8\\.3\\.4\\ -.1\\.1\\.5\\.5\\-.75\\-.85\\-.15\\ -.6\\.8\\-.4\\.05\\-.5\\-.55\\-.45\\ 1.5\\1.4\\.55\\1.8\\.3\\1.6\\.35\\ 2.0\\1.75\\3.0\\2.1\\-.4\\-.3\\.15\\ -.3\\-.35\\-.35\\4.55\\-.25\\-.3\\-.3\\ -.1\\-.55\\-.6\\-.15\\2.1\\2.5\\.15\\ 1.75\\.1\\.25\\.25\\-.15\\1.95\\.2\\ 2.55\\1.0\\.85\\1.65\\-.15\\.5\\1.5\\ -.45\\.3\\.05\\.05\\4.4\\-.35\\-.05\\ -.2\\0\\-.25\\-.3\\.15\\-.25\\-.25\\ .15\\-.1\\-.2\\-.25\\-.3\\2.7\\.2\\ -.95\\-.9\\-.8\\-.8\\-.05\\-.95\\-.8\\ -.55\\-.55\\-.5\\-.55\\-.55\\-.6\\-.55\\ -.45\\-.45\\-.45\\-.45\\-.45\\-.4\\-.4\\ -.45\\-.45\\-.45\\-.45\\-.4\\-.4\\-.4\\ -.45\\-.3\\-.35\\-.3\\-.45\\-.45\\-.45\\ -.35\\-.3\\-.35\\-.3\\-.15\\-.3\\-.3\\ -.55\\-.55\\-.55\\-.55\\-.55\\-.45\\-.4\\ -.25\\-.25\\-.25\\-.25\\-.25\\-.25\\-.25\\ -.25\\-.25\\-.25\\-.2\\-.25\\-.2\\-.2\\ -.2\\-.2\\-.2\\-.2\\-.15\\-.2\\-.2\\}
\facet{1628}{1674}{1}{Treg cells}{}{.7\\.7\\ .3\\.3\\ 1.25\\1.25\\ .1\\.1\\ .1\\.1\\ -.25\\-.25\\ -.6\\-.6\\ -.65\\-.65\\ .75\\.75\\ -.4\\-.4\\ -.2\\-.2\\ -.4\\-.4\\ -.55\\-.55\\ -.55\\-.55\\ -.4\\-.4\\ -.45\\-.45\\ -.4\\-.4\\ -.35\\-.35\\ -.45\\-.45\\ -.3\\-.3\\ -.25\\-.25\\ -.2\\-.2\\}
\facet{1710}{1757}{1}{gd–T cells}{}{.5\\.5\\ -.9\\-.9\\ -.55\\-.55\\ 1.1\\1.1\\ -.5\\-.5\\ -.2\\-.2\\ 1.25\\1.25\\ 1.6\\1.6\\ .1\\.1\\ -.4\\-.4\\ 4.1\\4.1\\ 1.9\\1.9\\ -.85\\-.85\\ -.5\\-.5\\ -.45\\-.45\\ -.35\\-.35\\ -.35\\-.35\\ -.4\\-.4\\ -.5\\-.5\\ -.4\\-.4\\ -.35\\-.35\\ -.1\\-.1\\}
\facet{1792}{1839}{1}{NK cells}{}{.4\\.4\\ -.9\\-.9\\ -.5\\-.5\\ 1.05\\1.05\\ -.35\\-.35\\ -.25\\-.25\\ 2.35\\2.35\\ 2.2\\2.2\\ .25\\.25\\ -.1\\-.1\\ 1.2\\1.2\\ 2.95\\2.95\\ -.9\\-.9\\ -.5\\-.5\\ -.4\\-.4\\ -.4\\-.4\\ -.4\\-.4\\ .1\\.1\\ -.45\\-.45\\ -.3\\-.3\\ -.25\\-.25\\ -.2\\-.2\\}
\facet{1875}{1921}{1}{Memory B cells}{}{-.4\\-.4\\ -.9\\-.9\\ 1.3\\1.3\\ .55\\.55\\ -.5\\-.5\\ -.05\\-.05\\ -.65\\-.65\\ -.45\\-.45\\ -.45\\-.45\\ -.4\\-.4\\ -.3\\-.3\\ -.45\\-.45\\ 1.0\\1.0\\ .65\\.65\\ 1.55\\1.55\\ .4\\.4\\ -.45\\-.45\\ -.35\\-.35\\ -.55\\-.55\\ -.3\\-.3\\ -.25\\-.25\\ -.2\\-.2\\}
\facet{1957}{2189}{5}{IgA/IgM Plasma cells,IgG Plasma cells\_1,IgG Plasma cells\_2,IgA Plasma cells\_1,IgA Plasma cells\_2}{}{-1.7\\-1.65\\-1.65\\-1.6\\-1.6\\ -.8\\-.75\\-.75\\-.75\\-.75\\ -.45\\-.4\\-.3\\-.45\\-.4\\ -1.0\\-1.1\\-1.1\\-1.0\\-1.0\\ -.35\\-.3\\-.25\\-.3\\-.3\\ -.05\\-.05\\-.05\\-.05\\-.05\\ -.65\\-.7\\-.5\\-.65\\-.65\\ -.6\\-.7\\-.9\\-.65\\-.85\\ -.9\\-.75\\-.75\\-.9\\-.75\\ -.3\\-.25\\-.2\\-.3\\-.25\\ -.3\\-.3\\-.25\\-.3\\-.3\\ -.4\\-.4\\-.35\\-.4\\-.4\\ -.15\\-.35\\-.35\\-.35\\-.3\\ 2.25\\2.15\\2.6\\.25\\1.3\\ 0\\2.65\\3.05\\-.05\\-.1\\ 3.6\\-.1\\.05\\2.3\\.7\\ -.4\\-.35\\-.35\\-.4\\-.35\\ -.35\\-.3\\-.3\\-.35\\-.35\\ -.45\\-.45\\-.5\\-.45\\-.45\\ -.25\\-.25\\-.25\\-.25\\-.25\\ -.2\\-.2\\-.2\\-.2\\-.2\\ -.2\\-.15\\-.15\\-.2\\-.2\\}
\facet{2225}{2503.6}{6}{Macrophages,Act. Macrophages,CD16+ Monocytes,CD14+ Monocytes,cDC1,cDC2}{}{-.4\\.95\\-.2\\.2\\.1\\.2\\ 1.0\\.5\\.85\\2.45\\-.35\\2.15\\ -.5\\3.1\\-.65\\-.65\\1.45\\.05\\ -1.05\\-.85\\-.45\\-.8\\-1.1\\-1.05\\ -.4\\-.25\\-.4\\-.4\\-.35\\-.5\\ -.05\\-.05\\-.1\\-.1\\-.1\\-.05\\ -.6\\-.3\\-.4\\-.55\\-.6\\-.6\\ -.75\\0\\-.9\\-.6\\-1.35\\-.5\\ -.95\\-1.05\\-.9\\-1.0\\-.9\\-1.05\\ -.3\\.15\\-.25\\-.3\\-.3\\-.4\\ -.3\\-.3\\-.3\\-.25\\-.2\\-.3\\ -.5\\-.5\\-.5\\-.5\\.05\\-.5\\ .75\\.45\\.65\\1.6\\2.0\\1.9\\ -.65\\-.55\\-.45\\-.55\\-.55\\-.65\\ -.45\\-.4\\-.4\\-.05\\-.4\\-.35\\ -.4\\-.35\\-.35\\0\\-.35\\-.35\\ .4\\2.2\\.45\\3.7\\-.4\\.85\\ .3\\-.15\\4.1\\2.05\\-.35\\.3\\ .65\\2.5\\-.4\\1.05\\2.15\\2.65\\ -.4\\-.45\\.8\\-.3\\4.35\\-.1\\ .6\\.1\\-.3\\-.15\\-.4\\4.55\\ -.35\\-.25\\-.3\\-.3\\.25\\-.3\\}
\facet{2540}{2586}{1}{Cycling cells}{colorbar,colorbar style={at={(parent axis.north east)},anchor=north west,xshift=4.9pt,yshift=-88.75pt,width=10.4pt,height=105.75pt,ytick={0,2,4},yticklabel style={font=\tf},major tick length=2.5pt,tick align=inside,ytick pos=both,major tick style={white,line width=.3pt},axis line style={draw=none}}}{.9\\.9\\ 0\\0\\ .35\\.35\\ .15\\.15\\ .1\\.1\\ -.15\\-.15\\ 1.4\\1.4\\ 1.65\\1.65\\ .8\\.8\\ .1\\.1\\ -.45\\-.45\\ .4\\.4\\ -.5\\-.5\\ -.5\\-.5\\ -.35\\-.35\\ -.4\\-.4\\ -.35\\-.35\\ -.3\\-.3\\ -.5\\-.5\\ -.3\\-.3\\ -.35\\-.35\\ 4.55\\4.55\\}
% ---------- free text
\foreach \x/\y/\t in {1355/12/Acinar,1488/12/Prog.,1645/12/Ductal,1802/12/Myoep.,1934/12/Fibrob.,2115/12/Peric.,2272/12/Endo.,2381/12/Neur.,2513/12/Imm.,1430/1253/T cells,1651/1253/Treg,1733/1253/gd,1815/1253/NK,1898/1253/B cells,2073/1253/Plasma cells,2364/1253/Mono–Mac,2563/1253/Cycling}{\node[font=\ttl,inner sep=0pt] at \P(\x,\y) {\t};}
\foreach \x/\y/\t in {19/26/A,1068/24/B,21/1324/C,1072/1285/D}{\node[font=\fontsize{13}{14}\selectfont,inner sep=0pt] at \P(\x,\y) {\t};}
\node[font=\tf,rotate=90,inner sep=0pt] at \P(1091,490) {expression};
\node[font=\tf,rotate=90,inner sep=0pt] at \P(1091,1766) {expression};
\node[font=\tf,inner sep=0pt] at \P(1934,1212) {cell types};
\node[font=\tf,inner sep=0pt] at \P(1927,2484) {cell types};
\node[font=\tf,rotate=90,inner sep=0pt] at \P(2657,272) {scaledMean};
\node[font=\tf,rotate=90,inner sep=0pt] at \P(2657,1549) {scaledMean};
\end{tikzpicture}
\end{document}
